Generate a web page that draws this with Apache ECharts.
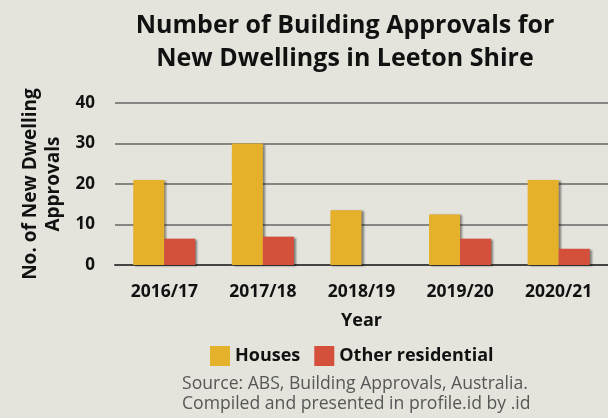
<!DOCTYPE html>
<html><head><meta charset="utf-8">
<script src="https://cdn.jsdelivr.net/npm/echarts@6/dist/echarts.min.js"></script>
<style>html,body{margin:0;padding:0;background:#e4e3dc}#c{width:608px;height:418px}</style>
</head><body><div id="c"></div>
<script>
const categories = ['2016/17','2017/18','2018/19','2019/20','2020/21'];
const houses = [21, 30, 13.5, 12.5, 21];
const otherResidential = [6.5, 7, 0, 6.5, 4];
const yTicks = [0, 10, 20, 30, 40];

const F = '"Open Sans", sans-serif';
const chart = echarts.init(document.getElementById('c'));
const shadow = {shadowColor:'rgba(0,0,0,0.45)', shadowBlur:2, shadowOffsetX:2, shadowOffsetY:1};
chart.setOption({
  backgroundColor:'#e4e3dc',
  animation:false,
  title:{
    text:'Number of Building Approvals for\nNew Dwellings in Leeton Shire',
    left:340, top:4, textAlign:'center',
    textStyle:{fontFamily:F, fontWeight:'bold', fontSize:25, color:'#111', lineHeight:33}
  },
  legend:{
    top:341, left:205, itemGap:14, itemWidth:20, itemHeight:20,
    icon:'rect',
    textStyle:{fontFamily:F, fontWeight:'bold', fontSize:18, color:'#111'},
    data:['Houses','Other residential']
  },
  graphic:[{
    type:'text', left:182, top:374,
    style:{text:'Source: ABS, Building Approvals, Australia.\nCompiled and presented in profile.id by .id',
      font:'17.6px '+F, fill:'#575757', align:'center', lineHeight:20}
  }],
  grid:{left:115, right:0, top:103, bottom:153},
  xAxis:{
    type:'category', data:categories,
    name:'Year', nameLocation:'middle', nameGap:47,
    nameTextStyle:{fontFamily:F, fontWeight:'bold', fontSize:18, color:'#111'},
    axisLine:{show:true, lineStyle:{color:'#444', width:2}},
    axisTick:{show:false},
    axisLabel:{fontFamily:F, fontWeight:'bold', fontSize:17.5, color:'#111', margin:18}
  },
  yAxis:{
    type:'value', min:yTicks[0], max:yTicks[yTicks.length-1], interval:10,
    name:'No. of New Dwelling\nApprovals', nameLocation:'middle', nameRotate:90, nameGap:50,
    nameTextStyle:{fontFamily:F, fontWeight:'bold', fontSize:19, color:'#111', lineHeight:23},
    axisLine:{show:false}, axisTick:{show:false},
    axisLabel:{fontFamily:F, fontWeight:'bold', fontSize:17, color:'#111', margin:20},
    splitLine:{lineStyle:{color:'#666', width:1.5}}
  },
  series:[
    {name:'Houses', type:'bar', data:houses, barGap:'0%', barCategoryGap:'37%',
     itemStyle:Object.assign({color:'#e5b02a'}, shadow)},
    {name:'Other residential', type:'bar', data:otherResidential,
     itemStyle:Object.assign({color:'#d4503b'}, shadow)}
  ]
});
</script></body></html>
